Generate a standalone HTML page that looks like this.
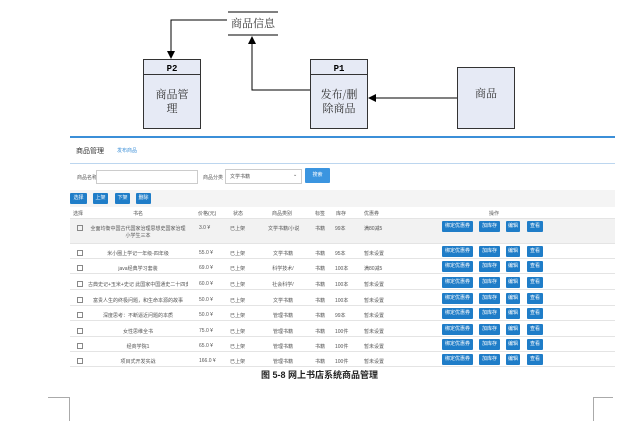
<!DOCTYPE html>
<html><head><meta charset="utf-8"><style>
body{margin:0;width:639px;height:421px;background:#fff;position:relative;overflow:hidden;font-family:"Liberation Sans","Noto Sans CJK SC",sans-serif;}
.a{position:absolute;}
.t{position:absolute;font-size:5px;color:#555;white-space:nowrap;}
.b{position:absolute;background:#1f7dc8;color:#fff;font-size:5px;text-align:center;line-height:11px;height:11px;border-radius:1px;}
.row{position:absolute;left:70px;width:545px;border-bottom:1px solid #e4e4e4;}
</style></head><body>
<svg class="a" style="left:0;top:0" width="639" height="135">
<defs><marker id="ar" markerWidth="8" markerHeight="8" refX="7" refY="4" orient="auto" markerUnits="userSpaceOnUse"><path d="M0,0 L8,4 L0,8 z" fill="#000"/></marker></defs>
<line x1="228" y1="12" x2="278" y2="12" stroke="#000" stroke-width="1"/>
<line x1="228" y1="35" x2="278" y2="35" stroke="#000" stroke-width="1"/>
<text x="253" y="27" font-size="11" text-anchor="middle" font-family="Noto Serif CJK SC,serif" fill="#333">商品信息</text>
<polyline points="227,20 171,20 171,58" fill="none" stroke="#000" marker-end="url(#ar)"/>
<polyline points="310,90 252,90 252,37" fill="none" stroke="#000" marker-end="url(#ar)"/>
<line x1="457" y1="98" x2="369" y2="98" stroke="#000" marker-end="url(#ar)"/>
<rect x="143.5" y="59.5" width="57" height="69" fill="#e6eaf5" stroke="#333"/>
<line x1="143" y1="74.5" x2="200" y2="74.5" stroke="#333"/>
<text x="172" y="71" font-size="9" font-weight="bold" text-anchor="middle" font-family="Liberation Mono,monospace">P2</text>
<text x="172" y="98" font-size="11" text-anchor="middle" font-family="Noto Serif CJK SC,serif" fill="#333">商品管</text>
<text x="172" y="112" font-size="11" text-anchor="middle" font-family="Noto Serif CJK SC,serif" fill="#333">理</text>
<rect x="310.5" y="59.5" width="57" height="69" fill="#e6eaf5" stroke="#333"/>
<line x1="310" y1="74.5" x2="367" y2="74.5" stroke="#333"/>
<text x="339" y="71" font-size="9" font-weight="bold" text-anchor="middle" font-family="Liberation Mono,monospace">P1</text>
<text x="339" y="98" font-size="11" text-anchor="middle" font-family="Noto Serif CJK SC,serif" fill="#333">发布/删</text>
<text x="339" y="112" font-size="11" text-anchor="middle" font-family="Noto Serif CJK SC,serif" fill="#333">除商品</text>
<rect x="457.5" y="67.5" width="57" height="61" fill="#e6eaf5" stroke="#333"/>
<text x="486" y="97" font-size="11" text-anchor="middle" font-family="Noto Serif CJK SC,serif" fill="#333">商品</text>
</svg>
<div class="a" style="left:70px;top:136px;width:545px;height:2px;background:#3b8fd8"></div>
<div class="t" style="left:76px;top:146px;font-size:7px;color:#333">商品管理</div>
<div class="t" style="left:117px;top:147px;color:#3b8fd8">发布商品</div>
<div class="a" style="left:70px;top:163px;width:545px;height:1px;background:#bcd6ef"></div>
<div class="t" style="left:77px;top:174px">商品名称</div>
<div class="a" style="left:96px;top:170px;width:100px;height:12px;border:1px solid #ccc"></div>
<div class="t" style="left:203px;top:174px">商品分类</div>
<div class="a" style="left:225px;top:169px;width:75px;height:13px;border:1px solid #ccc"></div>
<div class="t" style="left:230px;top:173px">文学书籍</div>
<div class="t" style="left:293px;top:172px">⌄</div>
<div class="b" style="left:305px;top:168px;width:25px;height:15px;line-height:15px;background:#3b95e0">搜索</div>
<div class="a" style="left:70px;top:190px;width:545px;height:17px;background:#f4f4f4"></div>
<div class="b" style="left:70px;top:193px;width:17px">选择</div>
<div class="b" style="left:93px;top:193px;width:15px">上架</div>
<div class="b" style="left:115px;top:193px;width:15px">下架</div>
<div class="b" style="left:136px;top:193px;width:15px">删除</div>
<div class="row" style="top:207px;height:11px;"></div>
<div class="t" style="left:73px;top:210px">选择</div><div class="t" style="left:133px;top:210px">书名</div><div class="t" style="left:198px;top:210px">价格(元)</div><div class="t" style="left:233px;top:210px">状态</div><div class="t" style="left:272px;top:210px">商品类别</div><div class="t" style="left:315px;top:210px">标签</div><div class="t" style="left:336px;top:210px">库存</div><div class="t" style="left:364px;top:210px">优惠券</div><div class="t" style="left:489px;top:210px">操作</div>
<div class="row" style="top:219px;height:24px;background:#f2f2f2"></div>
<div id="rows"></div>
<script>
var d=[[225,"全面均衡中国古代国家治理思想史国家治理","3.0 ¥","文学书籍/小说","99本","满80减5",1],
[250,"米小圈上学记一年级-四年级","55.0 ¥","文学书籍","95本","暂未设置"],
[265,"java经典学习套装","69.0 ¥","科学技术/","100本","满80减5"],
[281,"古典史记+玉米+史记 此国家中国通史二十四史正","60.0 ¥","社会科学/","100本","暂未设置"],
[297,"富贵人生的终极问题，和生命本源的故事","50.0 ¥","文学书籍","100本","暂未设置"],
[312,"深度思考：不断逼近问题的本质","50.0 ¥","管理书籍","99本","暂未设置"],
[328,"女性思维全书","75.0 ¥","管理书籍","100件","暂未设置"],
[343,"经商学院1","65.0 ¥","管理书籍","100件","暂未设置"],
[358,"项目式开发实战","166.0 ¥","管理书籍","100件","暂未设置"]];
var h="";
d.forEach(function(r,i){var y=r[0];
if(i>0)h+='<div class="row" style="top:'+(y-7)+'px;height:15px"></div>';
h+='<div class="a" style="left:77px;top:'+y+'px;width:4px;height:4px;border:1px solid #888"></div>';
h+='<div class="t" style="left:88px;width:100px;text-align:center;top:'+y+'px;overflow:hidden">'+r[1]+'</div>';
if(r[6])h+='<div class="t" style="left:88px;width:100px;text-align:center;top:'+(y+7)+'px">小学生三本</div>';
h+='<div class="t" style="left:199px;top:'+y+'px">'+r[2]+'</div><div class="t" style="left:230px;top:'+y+'px">已上架</div><div class="t" style="left:268px;width:30px;text-align:center;top:'+y+'px">'+r[3]+'</div><div class="t" style="left:315px;top:'+y+'px">书籍</div><div class="t" style="left:335px;top:'+y+'px">'+r[4]+'</div><div class="t" style="left:364px;top:'+y+'px">'+r[5]+'</div>';
var by=y-4;
h+='<div class="b" style="left:442px;top:'+by+'px;width:31px">绑定优惠券</div><div class="b" style="left:479px;top:'+by+'px;width:21px">加库存</div><div class="b" style="left:506px;top:'+by+'px;width:14px">编辑</div><div class="b" style="left:527px;top:'+by+'px;width:16px">查看</div>';
});
document.getElementById("rows").innerHTML=h;
</script>
<div class="a" style="left:0;width:639px;top:368px;text-align:center;font-size:9px;font-weight:bold;color:#222;font-family:'Liberation Sans','Noto Sans CJK SC',sans-serif">图 5-8 网上书店系统商品管理</div>
<div class="a" style="left:48px;top:397px;width:21px;height:1px;background:#aaa"></div>
<div class="a" style="left:69px;top:397px;width:1px;height:24px;background:#aaa"></div>
<div class="a" style="left:593px;top:397px;width:20px;height:1px;background:#aaa"></div>
<div class="a" style="left:593px;top:397px;width:1px;height:24px;background:#aaa"></div>
</body></html>
